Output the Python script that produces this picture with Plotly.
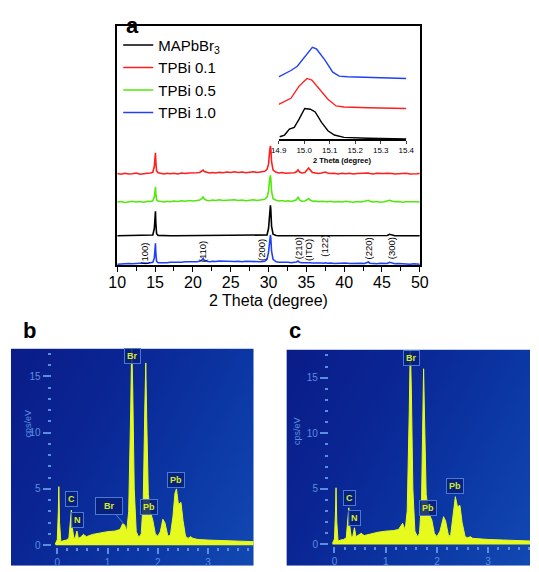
import plotly.graph_objects as go

W, H = 539, 572
def px(p): return p / W
def py(p): return 1 - p / H

FONT = "Liberation Sans, Arial, sans-serif"

# ---------------- Panel a: XRD ----------------
two_theta = [
    10.0, 10.5, 11.0, 11.5, 12.0, 12.5, 13.0, 13.5, 14.0, 14.4,
    14.7, 14.9, 15.0, 15.05, 15.1, 15.2, 15.4, 15.8, 16.2, 16.6,
    17.0, 17.5, 18.0, 18.5, 19.0, 19.5, 20.0, 20.5, 20.9, 21.2,
    21.35, 21.5, 21.8, 22.2, 22.6, 23.0, 23.5, 24.0, 24.5, 25.0,
    25.5, 26.0, 26.5, 27.0, 27.5, 28.0, 28.5, 29.0, 29.5, 29.8,
    30.0, 30.15, 30.25, 30.3, 30.4, 30.6, 31.0, 31.4, 31.8, 32.2,
    32.6, 33.0, 33.4, 33.7, 33.9, 34.1, 34.4, 34.8, 35.1, 35.3,
    35.5, 35.8, 36.2, 36.6, 37.0, 37.3, 37.5, 37.8, 38.2, 38.7,
    39.2, 39.7, 40.2, 40.7, 41.2, 41.7, 42.2, 42.7, 43.0, 43.2,
    43.4, 43.8, 44.3, 44.8, 45.3, 45.7, 46.0, 46.3, 46.7, 47.2,
    47.7, 48.2, 48.7, 49.2, 49.6, 50.0,
]

int_mapbbr3 = [
    0, 0, 0, 0, 0, 0, 0, 0, 0, 0.05,
    0.3, 3.0, 8.5, 10.2, 5.5, 0.8, 0.15, 0.05, 0, 0,
    0, 0, 0, 0, 0, 0, 0, 0, 0, 0.05,
    0.1, 0.05, 0, 0, 0, 0, 0, 0, 0, 0,
    0, 0, 0, 0, 0, 0, 0, 0, 0.05, 0.3,
    3.0, 10.5, 12.7, 11.0, 4.0, 0.6, 0.1, 0, 0, 0,
    0, 0, 0, 0, 0.1, 0, 0, 0, 0.1, 0.3,
    0.1, 0, 0, 0, 0, 0, 0, 0, 0, 0,
    0, 0, 0, 0, 0, 0, 0, 0, 0, 0.05,
    0, 0, 0, 0, 0, 0.1, 0.6, 0.2, 0, 0,
    0, 0, 0, 0, 0, 0,
]

int_tpbi01 = [
    0.1, -0.2, 0.2, -0.1, 0.0, 0.3, -0.2, 0.1, 0.2, 0.3,
    0.6, 3.0, 7.5, 8.7, 5.0, 1.2, 0.4, 0.1, -0.1, 0.2,
    0.0, 0.2, -0.1, 0.3, 0.1, 0.3, 0.2, 0.4, 0.5, 1.0,
    1.5, 0.9, 0.5, 0.3, 0.5, 0.3, 0.6, 0.4, 0.7, 0.5,
    0.8, 0.5, 0.7, 0.4, 0.6, 0.8, 0.5, 0.7, 1.0, 1.8,
    4.0, 9.5, 11.6, 10.5, 5.0, 1.5, 0.6, 0.3, 0.5, 0.2,
    0.3, 0.1, 0.4, 0.8, 1.6, 0.7, 0.3, 0.5, 1.5, 2.4,
    1.6, 0.5, 0.3, 0.1, 0.3, 0.5, 0.7, 0.3, 0.1, 0.2,
    -0.1, 0.2, 0.0, 0.2, -0.1, 0.1, 0.2, 0.0, 0.2, 0.3,
    0.1, -0.1, 0.2, 0.0, 0.1, 0.2, 0.3, 0.1, -0.1, 0.1,
    0.0, 0.2, -0.1, 0.1, 0.0, 0.1,
]

int_tpbi05 = [
    0.0, 0.2, -0.2, 0.1, 0.3, 0.0, 0.2, -0.1, 0.3, 0.2,
    0.5, 2.0, 5.2, 6.2, 3.5, 0.9, 0.4, 0.2, 0.0, 0.3,
    0.1, 0.4, 0.2, 0.5, 0.3, 0.6, 0.4, 0.6, 0.8, 1.5,
    2.1, 1.3, 0.7, 0.5, 0.8, 0.6, 0.9, 0.6, 0.8, 0.7,
    0.9, 0.6, 0.8, 0.5, 0.7, 0.9, 0.6, 0.8, 1.1, 2.0,
    4.5, 9.5, 11.1, 9.8, 4.5, 1.4, 0.7, 0.4, 0.6, 0.3,
    0.5, 0.2, 0.5, 0.9, 2.1, 0.8, 0.3, 0.4, 0.9, 1.4,
    0.8, 0.3, 0.4, 0.1, 0.3, 0.2, 0.4, 0.1, 0.3, 0.0,
    0.2, 0.0, 0.3, 0.1, -0.1, 0.2, 0.0, 0.3, 0.4, 0.7,
    0.3, 0.0, 0.2, -0.1, 0.1, 0.3, 0.7, 0.4, 0.1, 0.2,
    -0.1, 0.1, 0.2, 0.0, 0.1, 0.0,
]

int_tpbi10 = [
    0.0, 0.2, 0.1, 0.3, 0.2, 0.4, 0.3, 0.5, 0.4, 0.6,
    0.8, 2.5, 7.0, 8.7, 4.5, 1.2, 0.6, 0.5, 0.7, 0.6,
    0.8, 0.7, 0.9, 0.8, 1.0, 0.9, 1.1, 1.0, 1.2, 1.8,
    2.5, 1.6, 1.2, 1.0, 1.2, 1.1, 1.3, 1.2, 1.1, 1.3,
    1.1, 1.2, 1.0, 1.2, 1.1, 0.9, 1.1, 1.0, 1.2, 2.0,
    5.0, 10.5, 12.2, 11.0, 5.5, 2.0, 1.0, 0.8, 0.9, 0.7,
    0.8, 0.6, 0.7, 0.9, 1.3, 0.8, 0.6, 0.7, 0.6, 0.8,
    0.6, 0.5, 0.6, 0.4, 0.5, 0.4, 0.6, 0.4, 0.5, 0.3,
    0.4, 0.3, 0.5, 0.3, 0.4, 0.2, 0.4, 0.3, 0.5, 0.9,
    0.4, 0.3, 0.2, 0.4, 0.2, 0.3, 0.8, 0.4, 0.2, 0.3,
    0.1, 0.2, 0.0, 0.2, 0.1, 0.0,
]

series_names = ["MAPbBr<sub>3</sub>", "TPBi 0.1", "TPBi 0.5", "TPBi 1.0"]
series_colors = ["#000000", "#ff1e1e", "#52e80c", "#2040f5"]
series_offsets = [12.3, 38.2, 26.4, 0.4]
series_values = [int_mapbbr3, int_tpbi01, int_tpbi05, int_tpbi10]

hkl_labels = ["(100)", "(110)", "(200)", "(210)", "(ITO)", "(122)", "(220)", "(300)"]
hkl_pos = [13.6, 21.2, 29.1, 33.9, 35.3, 37.4, 43.2, 46.2]
hkl_y = [5.0, 5.8, 6.2, 7.1, 6.2, 8.3, 7.1, 7.1]

# inset (zoom of the (100) peak)
inset_mapbbr3_x = [14.904, 14.923, 14.942, 14.961, 14.98, 15.002, 15.024, 15.043, 15.068, 15.093, 15.118, 15.156, 15.25, 15.4]
inset_mapbbr3_y = [2.3, 4.0, 10.0, 11.7, 20.0, 30.7, 30.0, 27.3, 16.7, 8.3, 4.0, 1.7, 0.8, 0.0]
inset_tpbi01_x = [14.9, 14.948, 14.98, 15.011, 15.03, 15.056, 15.093, 15.125, 15.156, 15.25, 15.4]
inset_tpbi01_y = [35.0, 41.0, 53.3, 61.0, 59.3, 51.7, 40.0, 33.3, 32.3, 31.5, 30.7]
inset_tpbi10_x = [14.9, 14.948, 14.973, 15.004, 15.032, 15.048, 15.08, 15.112, 15.137, 15.168, 15.25, 15.4]
inset_tpbi10_y = [62.7, 69.0, 73.3, 83.3, 92.3, 90.7, 80.0, 67.3, 63.3, 62.7, 62.0, 61.0]

# ---------------- Panels b, c: EDS ----------------
eds_b_kev = [-0.04, 0.0, 0.02, 0.03, 0.045, 0.07, 0.12, 0.18, 0.23, 0.26,
             0.28, 0.30, 0.33, 0.36, 0.39, 0.42, 0.46, 0.52, 0.58, 0.7,
             0.85, 1.0, 1.15, 1.25, 1.3, 1.34, 1.38, 1.42, 1.46, 1.48,
             1.50, 1.53, 1.57, 1.62, 1.67, 1.71, 1.74, 1.76, 1.78, 1.81,
             1.85, 1.9, 1.95, 2.0, 2.05, 2.1, 2.14, 2.2, 2.25, 2.3,
             2.34, 2.37, 2.41, 2.46, 2.5, 2.55, 2.6, 2.65, 2.7, 2.8,
             3.0, 3.3, 3.6, 3.95]
eds_b_cps = [0.1, 0.5, 3.0, 5.2, 2.0, 0.3, 0.4, 0.45, 0.6, 1.8,
             3.1, 1.5, 0.6, 0.7, 1.25, 0.6, 0.7, 0.95, 0.75, 0.95,
             1.1, 1.2, 1.25, 1.4, 1.9, 1.8, 1.2, 3.0, 12.0, 18.0,
             14.0, 5.0, 1.2, 0.7, 1.0, 4.0, 12.0, 16.2, 11.0, 4.5,
             3.0, 2.2, 1.0, 0.8, 1.2, 2.3, 2.0, 0.8, 0.9, 2.5,
             4.6, 5.0, 3.6, 3.8, 2.2, 0.8, 0.6, 0.75, 0.6, 0.5,
             0.45, 0.4, 0.35, 0.3]

eds_c_kev = [-0.04, 0.0, 0.02, 0.03, 0.045, 0.07, 0.12, 0.18, 0.23, 0.26,
             0.28, 0.30, 0.33, 0.36, 0.39, 0.42, 0.46, 0.52, 0.58, 0.7,
             0.85, 1.0, 1.15, 1.25, 1.3, 1.33, 1.38, 1.42, 1.46, 1.48,
             1.50, 1.53, 1.57, 1.62, 1.66, 1.70, 1.72, 1.74, 1.76, 1.79,
             1.84, 1.9, 1.95, 2.0, 2.06, 2.13, 2.17, 2.23, 2.27, 2.31,
             2.34, 2.36, 2.4, 2.45, 2.49, 2.55, 2.6, 2.65, 2.7, 2.8,
             3.0, 3.3, 3.6, 3.9]
eds_c_cps = [0.1, 0.5, 3.0, 5.1, 2.0, 0.3, 0.4, 0.45, 0.6, 1.9,
             3.3, 1.6, 0.6, 0.8, 1.5, 0.7, 0.8, 1.0, 0.8, 0.95,
             1.1, 1.2, 1.25, 1.35, 1.7, 1.9, 1.3, 3.0, 12.0, 18.0,
             14.0, 5.0, 1.2, 0.7, 1.0, 4.0, 10.0, 15.8, 11.0, 4.5,
             2.8, 2.2, 1.0, 0.7, 1.2, 2.5, 2.1, 0.7, 0.9, 2.5,
             3.8, 4.3, 3.4, 3.5, 2.0, 0.7, 0.6, 0.7, 0.55, 0.5,
             0.45, 0.4, 0.35, 0.3]

eds_b_tags = ["Br", "C", "N", "Br", "Pb", "Pb"]
eds_b_tag_x = [1.49, 0.28, 0.40, 1.03, 1.83, 2.37]
eds_b_tag_y = [16.8, 4.06, 2.25, 3.49, 3.35, 5.83]
eds_c_tags = ["Br", "C", "N", "Pb", "Pb"]
eds_c_tag_x = [1.50, 0.29, 0.40, 1.83, 2.35]
eds_c_tag_y = [16.8, 4.18, 2.35, 3.24, 5.25]

EDS_YELLOW = "#e6fa1e"
EDS_TICK = "#5a8ee0"
BG_SCALE = [[0, "#0a1c88"], [1/3, "#0a2694"], [2/3, "#0b37a4"], [1, "#1249b2"]]

fig = go.Figure()

for name, col, off, vals in zip(series_names, series_colors, series_offsets, series_values):
    fig.add_trace(go.Scatter(
        x=two_theta, y=[v + off for v in vals], mode="lines", name=name,
        line=dict(color=col, width=1.6), xaxis="x", yaxis="y"))

for xs, ys, col in [(inset_mapbbr3_x, inset_mapbbr3_y, series_colors[0]),
                    (inset_tpbi01_x, inset_tpbi01_y, series_colors[1]),
                    (inset_tpbi10_x, inset_tpbi10_y, series_colors[3])]:
    fig.add_trace(go.Scatter(x=xs, y=ys, mode="lines", showlegend=False,
                             line=dict(color=col, width=1.4), xaxis="x2", yaxis="y2"))

for bx, by, sx, sy, kev, cps in [("x3", "y3", "x4", "y4", eds_b_kev, eds_b_cps),
                                 ("x5", "y5", "x6", "y6", eds_c_kev, eds_c_cps)]:
    fig.add_trace(go.Heatmap(z=[[1, 3], [0, 2]], x=[0, 1], y=[0, 1], zmin=0, zmax=3,
                             colorscale=BG_SCALE, zsmooth="best", showscale=False,
                             hoverinfo="skip", xaxis=bx, yaxis=by))
    fig.add_trace(go.Scatter(x=kev, y=cps, mode="lines", fill="tozeroy",
                             fillcolor=EDS_YELLOW, line=dict(color=EDS_YELLOW, width=1),
                             showlegend=False, xaxis=sx, yaxis=sy))

annotations = []
annotations.append(dict(text="<b>a</b>", x=px(119), y=py(11), xref="paper", yref="paper",
                        showarrow=False, font=dict(size=22, family=FONT, color="black")))
annotations.append(dict(text="<b>b</b>", x=px(12), y=py(333), xref="paper", yref="paper",
                        showarrow=False, font=dict(size=22, family=FONT, color="black")))
annotations.append(dict(text="<b>c</b>", x=px(296), y=py(333), xref="paper", yref="paper",
                        showarrow=False, font=dict(size=22, family=FONT, color="black")))
annotations.append(dict(text="2 Theta (degree)", x=px(268), y=py(303), xref="paper", yref="paper",
                        showarrow=False, font=dict(size=16, family=FONT, color="black")))
annotations.append(dict(text="<b>2 Theta (degree)</b>", x=px(345), y=py(155), xref="paper", yref="paper",
                        showarrow=False, font=dict(size=7.5, family=FONT, color="black")))
for t, xv, yv in zip(hkl_labels, hkl_pos, hkl_y):
    annotations.append(dict(text=t, x=xv, y=yv, xref="x", yref="y", textangle=-90,
                            showarrow=False, font=dict(size=9.5, family=FONT, color="black")))
for xa, ya in [(px(12), py(443)), (px(298), py(450))]:
    annotations.append(dict(text="cps/eV", x=xa, y=ya, xref="paper", yref="paper", textangle=-90,
                            showarrow=False, font=dict(size=9, family=FONT, color=EDS_TICK)))

def tag(t, xv, yv, xr, yr, arrow=None):
    d = dict(text=f"<b>{t}</b>", x=xv, y=yv, xref=xr, yref=yr,
             font=dict(size=9, family=FONT, color="#d2ec2a"),
             bgcolor="rgba(8,30,120,0.85)", bordercolor="#4a7ad8", borderwidth=1, borderpad=2,
             showarrow=False)
    if arrow:
        d.update(showarrow=True, arrowhead=0, arrowwidth=1, arrowcolor="#4a7ad8",
                 ax=arrow[0], ay=arrow[1], x=arrow[2], y=arrow[3])
    return d

for i, (t, xv, yv) in enumerate(zip(eds_b_tags, eds_b_tag_x, eds_b_tag_y)):
    if i == 3:
        d = tag("&nbsp;&nbsp;Br&nbsp;&nbsp;", xv, yv, "x4", "y4", arrow=(-14, -17, 1.3, 2.0))
        d["borderpad"] = 3
        annotations.append(d)
    else:
        annotations.append(tag(t, xv, yv, "x4", "y4"))
for t, xv, yv in zip(eds_c_tags, eds_c_tag_x, eds_c_tag_y):
    annotations.append(tag(t, xv, yv, "x6", "y6"))

hidden = dict(visible=False, showgrid=False, zeroline=False, fixedrange=True)

eds_x = dict(showgrid=False, zeroline=False, showline=False, tickvals=[0, 1, 2, 3],
             ticks="outside", ticklen=6, tickwidth=2, tickcolor=EDS_TICK,
             tickfont=dict(size=10, family=FONT, color=EDS_TICK),
             minor=dict(dtick=0.2, tick0=0, ticks="outside", ticklen=3, tickwidth=2, tickcolor=EDS_TICK))
eds_y = dict(showgrid=False, zeroline=False, showline=False, tickvals=[0, 5, 10, 15],
             ticks="outside", ticklen=8, tickwidth=2, tickcolor=EDS_TICK,
             tickfont=dict(size=10, family=FONT, color=EDS_TICK),
             minor=dict(dtick=1, tick0=0, ticks="outside", ticklen=3, tickwidth=2, tickcolor=EDS_TICK))

fig.update_layout(
    width=W, height=H, margin=dict(l=0, r=0, t=0, b=0),
    paper_bgcolor="white", plot_bgcolor="rgba(0,0,0,0)",
    font=dict(family=FONT, color="black"),
    showlegend=True,
    legend=dict(x=px(113), y=py(29), xanchor="left", yanchor="top", bgcolor="rgba(0,0,0,0)",
                font=dict(size=15, family=FONT), tracegroupgap=0, itemwidth=30),
    xaxis=dict(domain=[px(112), px(425)], range=[10, 50], dtick=5, tick0=10,
               showline=True, linecolor="black", linewidth=1.5, mirror=True,
               ticks="outside", ticklen=5, tickwidth=1.2, tickcolor="black", ticklabelstandoff=-3,
               minor=dict(dtick=2.5, tick0=10, ticks="outside", ticklen=4, tickwidth=1.2, tickcolor="black"),
               tickfont=dict(size=16, family=FONT), showgrid=False, zeroline=False),
    yaxis=dict(domain=[py(267), py(26)], range=[0, 100], showline=True, linecolor="black",
               linewidth=1.5, mirror=True, showticklabels=False, ticks="", showgrid=False, zeroline=False),
    xaxis2=dict(domain=[px(279), px(411)], range=[14.9, 15.4], anchor="y2",
                tickvals=[14.9, 15.0, 15.1, 15.2, 15.3, 15.4],
                ticktext=["14.9", "15.0", "15.1", "15.2", "15.3", "15.4"],
                showline=True, linecolor="black", linewidth=1.5, ticks="outside", ticklen=3,
                tickfont=dict(size=8, family=FONT), showgrid=False, zeroline=False),
    yaxis2=dict(domain=[py(140), py(40)], range=[0, 100], anchor="x2", **hidden),
    xaxis3=dict(domain=[px(2), px(253)], range=[0, 1], anchor="y3", **hidden),
    yaxis3=dict(domain=[py(570), py(351)], range=[0, 1], anchor="x3", **hidden),
    xaxis4=dict(domain=[px(44), px(253)], range=[-0.115, 3.904], anchor="y4", **eds_x),
    yaxis4=dict(domain=[py(551), py(351)], range=[-0.18, 17.48], anchor="x4", **eds_y),
    xaxis5=dict(domain=[px(287), 1.0], range=[0, 1], anchor="y5", **hidden),
    yaxis5=dict(domain=[py(570), py(352)], range=[0, 1], anchor="x5", **hidden),
    xaxis6=dict(domain=[px(331), 1.0], range=[-0.108, 3.817], anchor="y6", **eds_x),
    yaxis6=dict(domain=[py(550), py(352)], range=[-0.15, 17.53], anchor="x6", **eds_y),
    annotations=annotations,
)

fig.write_html("out.html", config={"displayModeBar": False},
               post_script="document.body.style.margin='0';document.body.style.padding='0';"
                           "document.body.style.overflow='hidden';")
